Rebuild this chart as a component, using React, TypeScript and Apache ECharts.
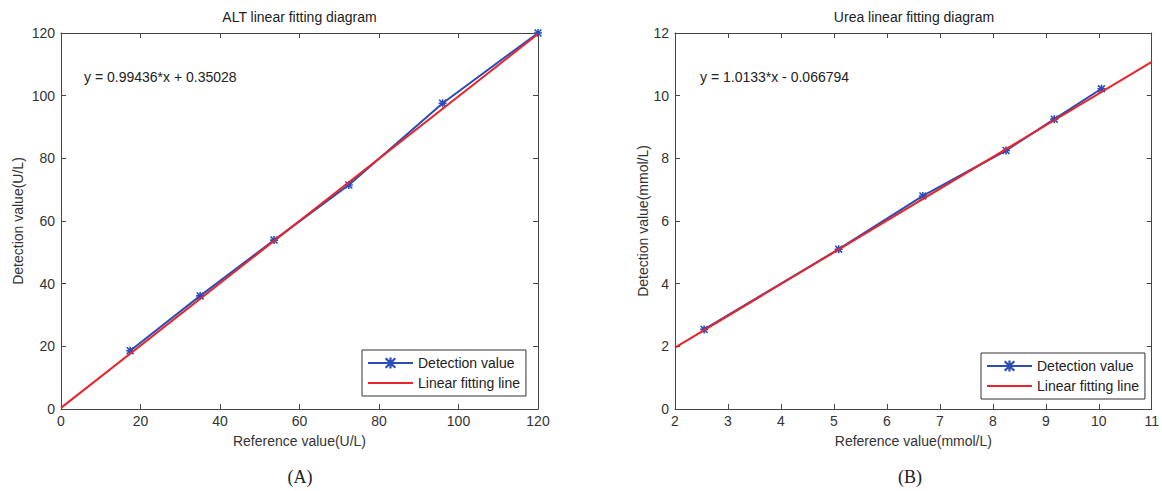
import React, { useEffect, useRef } from "react";
import * as echarts from "echarts";

// ALT chart data
const altReference = [17.4, 35.0, 53.6, 72.4, 96.0, 120];
const altDetection = [18.6, 36.1, 53.9, 71.5, 97.6, 120];
const altFitX = [0, 120];
const altFitY = [0.35, 119.67];

// Urea chart data
const ureaReference = [2.55, 5.09, 6.68, 8.25, 9.16, 10.05];
const ureaDetection = [2.54, 5.1, 6.8, 8.25, 9.25, 10.22];
const ureaFitX = [2, 11];
const ureaFitY = [1.96, 11.08];

const legendNames = ["Detection value", "Linear fitting line"];
const titles = ["ALT linear fitting diagram", "Urea linear fitting diagram"];
const equations = ["y = 0.99436*x + 0.35028", "y = 1.0133*x - 0.066794"];
const xNames = ["Reference value(U/L)", "Reference value(mmol/L)"];
const yNames = ["Detection value(U/L)", "Detection value(mmol/L)"];
const panelLabels = ["(A)", "(B)"];

const FONT = "'Liberation Sans', Arial, Helvetica, sans-serif";
const SERIF = "'Liberation Serif', 'Times New Roman', serif";
const BLUE = "#2a4db8";
const RED = "#e8242c";
const AXIS = "#454545";

const ASTERISK =
  "path://M8 0h4v20h-4Z M0 8h20v4h-20Z M2.8 0L20 17.2L17.2 20L0 2.8Z M17.2 0L20 2.8L2.8 20L0 17.2Z";
// plain line icon for the legend (tiny corner squares keep the 45x14 box)
const LINE_ICON =
  "path://M0 0h0.01v0.01h-0.01Z M0 6h45v2h-45Z M44.99 13.99h0.01v0.01h-0.01Z";

function zip(a: number[], b: number[]) {
  return a.map((v, i) => [v, b[i]]);
}

function mkX(grid: number, min: number, max: number, interval: number, bottom: boolean, name?: string) {
  return {
    gridIndex: grid,
    type: "value",
    min,
    max,
    interval,
    position: bottom ? "bottom" : "top",
    axisLine: { show: true, onZero: false, lineStyle: { color: AXIS, width: 1 } },
    axisTick: { show: true, inside: true, length: 5, lineStyle: { color: AXIS, width: 1 } },
    axisLabel: bottom
      ? { show: true, color: "#333", fontSize: 14, fontFamily: FONT, margin: 5 }
      : { show: false },
    splitLine: { show: false },
    name: name || "",
    nameLocation: "middle",
    nameGap: 25,
    nameTextStyle: { color: "#333", fontSize: 14, fontFamily: FONT },
  };
}

function mkY(grid: number, min: number, max: number, interval: number, left: boolean, name: string | undefined, gap: number) {
  return {
    gridIndex: grid,
    type: "value",
    min,
    max,
    interval,
    position: left ? "left" : "right",
    axisLine: { show: true, onZero: false, lineStyle: { color: AXIS, width: 1 } },
    axisTick: { show: true, inside: true, length: 5, lineStyle: { color: AXIS, width: 1 } },
    axisLabel: left
      ? { show: true, color: "#333", fontSize: 14, fontFamily: FONT, margin: 6 }
      : { show: false },
    splitLine: { show: false },
    name: name || "",
    nameLocation: "middle",
    nameRotate: 90,
    nameGap: gap,
    nameTextStyle: { color: "#333", fontSize: 14, fontFamily: FONT },
  };
}

function mkLegend(left: number, top: number) {
  return {
    show: true,
    orient: "vertical",
    left,
    top,
    data: [
      { name: legendNames[0] },
      { name: legendNames[1], icon: LINE_ICON, itemStyle: { color: RED } },
    ],
    itemWidth: 45,
    itemHeight: 14,
    itemGap: 6,
    itemTextGap: 4,
    padding: [6, 6, 6, 5],
    borderColor: "#333",
    borderWidth: 1,
    backgroundColor: "#fff",
    selectedMode: false,
    textStyle: { fontSize: 14, color: "#222", fontFamily: FONT },
  };
}

function text(str: string, x: number, y: number, align: string, font: string, size: number, rotation = 0) {
  return {
    type: "text",
    x,
    y,
    rotation,
    silent: true,
    style: {
      text: str,
      fill: "#222",
      fontSize: size,
      fontFamily: font,
      align,
      verticalAlign: "middle",
      textAlign: align,
      textVerticalAlign: "middle",
    },
  };
}

export default function App() {
  const ref = useRef<HTMLDivElement>(null);

  useEffect(() => {
    if (!ref.current) return;
    const chart = echarts.init(ref.current, undefined, { renderer: "svg" });

    const detSeries = (xi: number, yi: number, data: number[][]) => ({
      name: legendNames[0],
      type: "line",
      xAxisIndex: xi,
      yAxisIndex: yi,
      data,
      symbol: ASTERISK,
      symbolSize: 8,
      showSymbol: true,
      lineStyle: { color: BLUE, width: 2 },
      itemStyle: { color: BLUE },
      emphasis: { disabled: true },
      z: 2,
    });
    const fitSeries = (xi: number, yi: number, data: number[][]) => ({
      name: legendNames[1],
      type: "line",
      xAxisIndex: xi,
      yAxisIndex: yi,
      data,
      symbol: "none",
      showSymbol: false,
      lineStyle: { color: RED, width: 2 },
      itemStyle: { color: RED },
      emphasis: { disabled: true },
      z: 3,
    });

    chart.setOption({
      animation: false,
      backgroundColor: "#fff",
      grid: [
        { left: 61, top: 33, width: 477, height: 376, containLabel: false },
        { left: 675, top: 33, width: 478, height: 376, containLabel: false },
      ],
      xAxis: [
        mkX(0, 0, 120, 20, true, xNames[0]),
        mkX(0, 0, 120, 20, false),
        mkX(1, 2, 11, 1, true, xNames[1]),
        mkX(1, 2, 11, 1, false),
      ],
      yAxis: [
        mkY(0, 0, 120, 20, true, yNames[0], 36),
        mkY(0, 0, 120, 20, false, undefined, 0),
        mkY(1, 0, 12, 2, true, yNames[1], 25),
        mkY(1, 0, 12, 2, false, undefined, 0),
      ],
      legend: [mkLegend(362, 350), mkLegend(981, 353)],
      series: [
        detSeries(0, 0, zip(altReference, altDetection)),
        fitSeries(0, 0, zip(altFitX, altFitY)),
        detSeries(2, 2, zip(ureaReference, ureaDetection)),
        fitSeries(2, 2, zip(ureaFitX, ureaFitY)),
      ],
      graphic: [
        text(titles[0], 299.5, 17, "center", FONT, 14),
        text(titles[1], 914, 17, "center", FONT, 14),
        text(equations[0], 84, 77, "left", FONT, 14),
        text(equations[1], 700, 77, "left", FONT, 14),
        text(panelLabels[0], 300, 477, "center", SERIF, 18),
        text(panelLabels[1], 910, 477, "center", SERIF, 18),
      ],
    });

    return () => chart.dispose();
  }, []);

  return (
    <div
      ref={ref}
      style={{ position: "absolute", left: 0, top: 0, width: 1162, height: 491 }}
    />
  );
}
